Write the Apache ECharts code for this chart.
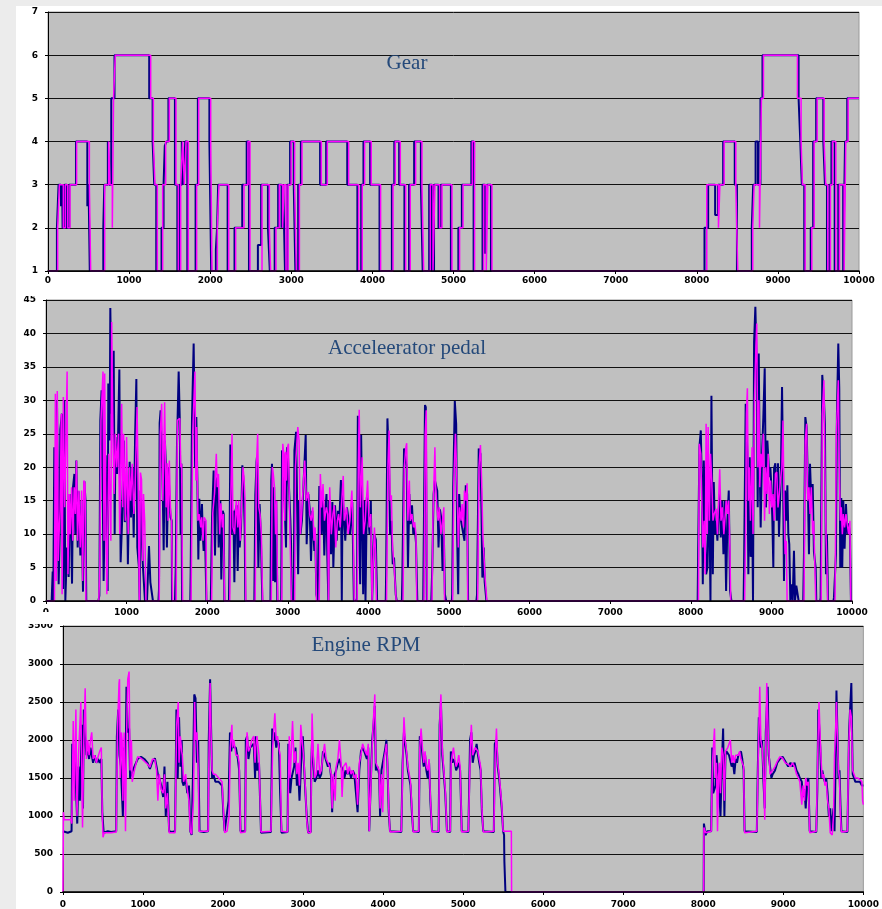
<!DOCTYPE html>
<html>
<head>
<meta charset="utf-8">
<script src="https://cdn.jsdelivr.net/npm/echarts@6/dist/echarts.min.js"></script>
<style>
  html, body { margin: 0; padding: 0; background: #fff; }
  #chart { width: 882px; height: 909px; }
</style>
</head>
<body>
<div id="chart"></div>
<script>
// panel titles
const titles = ["Gear", "Acceleerator pedal", "Engine RPM"];

// gear: [time, gear] change points (drawn as steps)
const gearNavy = [[0,1],[110,2],[130,3],[160,2.5],[175,3],[180,2],[205,3],[232,2],[262,3],[345,4],[485,2.5],[500,3],[515,1],[682,2],[694,3],[738,4],[755,3],[780,5],[820,6],[1248,5],[1290,4],[1310,3],[1335,1],[1400,2],[1425,3],[1440,3.9],[1460,4],[1485,5],[1565,3],[1595,1],[1625,3],[1650,4],[1672,3],[1692,4],[1718,1],[1820,3],[1848,5],[1990,4],[2012,1],[2070,1.5],[2085,2],[2098,3],[2215,1],[2300,2],[2395,3],[2450,4],[2478,1],[2588,1.6],[2628,3],[2712,2],[2735,1],[2795,2],[2838,3],[2880,2],[2900,3],[2922,1],[2950,3],[2985,4],[3030,3],[3050,1],[3085,3],[3118,4],[3355,3],[3430,4],[3690,3],[3815,1],[3862,3],[3890,4],[3972,3],[4088,1],[4240,3],[4270,4],[4330,3],[4395,1],[4452,3],[4515,4],[4598,3],[4620,1],[4700,3],[4735,1],[4760,3],[4815,2],[4845,3],[4968,1],[5060,2],[5103,3],[5220,4],[5248,1],[5358,3],[5390,1.4],[5412,3],[5462,1],[8095,2],[8140,3],[8226,2.3],[8262,3],[8325,4],[8468,3],[8495,1],[8678,2],[8695,3],[8725,4],[8755,3],[8785,5],[8810,6],[9255,5],[9276,4],[9295,3],[9325,1],[9405,2],[9435,4],[9472,5],[9560,4],[9580,3],[9605,1],[9635,3],[9660,4],[9700,1],[9745,3],[9805,1],[9828,4],[9855,5],[10000,5]];
const gearPink = [[0,1],[119,2],[140,3],[189,2],[214,3],[243,2],[271,3],[353,4],[510,3],[526,1],[699,3],[748,4],[764,3],[793,2],[808,5],[830,6],[1266,5],[1299,4],[1319,3],[1348,1],[1414,3],[1451,4],[1496,5],[1578,3],[1607,1],[1636,3],[1660,4],[1681,3],[1702,4],[1730,1],[1833,3],[1858,5],[2006,4],[2022,1],[2088,2],[2108,3],[2228,1],[2314,2],[2417,3],[2466,4],[2491,1],[2639,3],[2729,2],[2745,1],[2811,2],[2852,3],[2893,2],[2910,3],[2935,1],[2960,3],[2998,4],[3041,3],[3062,1],[3100,3],[3132,4],[3370,3],[3444,4],[3707,3],[3830,1],[3875,3],[3904,4],[3986,3],[4101,1],[4254,3],[4282,4],[4344,3],[4410,1],[4467,3],[4533,4],[4611,3],[4632,1],[4714,3],[4747,1],[4771,3],[4829,2],[4858,3],[4981,1],[5075,2],[5117,3],[5232,4],[5260,1],[5371,3],[5404,1],[5424,3],[5474,1],[8123,3],[8267,2],[8285,3],[8337,4],[8481,3],[8505,1],[8690,2],[8707,3],[8773,2],[8797,5],[8822,6],[9241,5],[9286,4],[9303,3],[9336,1],[9418,2],[9447,4],[9484,5],[9570,4],[9590,3],[9615,1],[9648,3],[9673,4],[9714,1],[9759,3],[9817,1],[9837,4],[9866,5],[10000,5]];

// accelerator pedal: [time, %]
const pedalNavy = [[0,0],[70,0],[83,4.4],[90,0],[103,23],[120,8.6],[136,30],[157,2.5],[170,10],[178,25.7],[198,28],[211,1.8],[227,30],[240,0],[260,8],[281,3.6],[294,16],[310,11],[323,2.6],[335,17],[352,19],[364,10],[376,21],[393,8],[405,16.4],[426,6.8],[440,15],[459,1.4],[476,17.9],[490,15],[500,0],
  [650,0],[662,0.8],[674,27],[690,31.5],[715,3],[740,21.8],[765,1.5],[773,32.5],[790,24],[798,43.8],[815,28],[825,30],[840,37.4],[852,10],[862,24.5],[882,19],[894,24.5],[910,34.6],[926,5.8],[946,12.5],[965,24],[978,11.8],[1005,17.5],[1016,5.5],[1038,20.8],[1055,12.5],[1072,20],[1088,9.5],[1105,24.3],[1121,33.2],[1133,8],[1154,4.9],[1162,0],[1175,16.5],[1200,5.7],[1228,0],[1253,0],[1278,8.2],[1295,2.8],[1315,2.8],[1327,0],
  [1395,0],[1402,1.8],[1410,26.6],[1422,28.5],[1445,19],[1460,7.6],[1475,24],[1485,21],[1500,8],[1520,20],[1530,16],[1545,12.5],[1560,12],[1563,0],
  [1600,0],[1610,5],[1625,23.3],[1646,34.3],[1660,27],[1670,10],[1680,20.5],[1688,0],
  [1790,0],[1795,4.3],[1811,27],[1832,38.5],[1850,20],[1865,27.5],[1878,17.9],[1890,6.2],[1902,15.3],[1915,9],[1935,14.5],[1945,10],[1956,7.5],[1970,12],[1990,0],
  [2045,0],[2060,12.5],[2080,19.5],[2097,6.8],[2113,18],[2130,18.5],[2142,8],[2163,15],[2175,3.2],[2192,13.5],[2205,13],[2213,0],
  [2270,0],[2275,5.3],[2287,23.4],[2300,10],[2325,13.5],[2337,2.8],[2350,13.5],[2366,14.3],[2378,4.5],[2390,12],[2403,8],[2420,11],[2436,20.3],[2450,18],[2465,11],[2473,0],
  [2585,0],[2597,15.8],[2612,20.8],[2618,21.6],[2635,5],[2650,14.5],[2665,10],[2684,0],
  [2785,0],[2795,18],[2804,20.5],[2818,3],[2830,17],[2842,2.8],[2856,15],[2870,0],[2918,0],[2928,22.5],[2945,22],[2958,15.8],[2978,8],[2990,23],[3000,22.5],[3012,17.8],[3032,12],[3040,8.8],[3050,0],
  [3075,0],[3082,22.5],[3103,25.3],[3128,4],[3140,15],[3157,10],[3175,12],[3222,24.8],[3234,8.5],[3255,16],[3271,13.8],[3288,6],[3304,13.5],[3317,13.7],[3329,7.5],[3341,10],[3354,1],[3370,0],
  [3385,0],[3391,17.2],[3420,10],[3436,16.3],[3453,6.8],[3470,14],[3480,16],[3490,7],[3503,0],[3512,15],[3536,7],[3553,14.8],[3565,5],[3586,14.3],[3606,9],[3622,13.5],[3635,10.5],[3659,18.1],[3670,0],[3680,16],[3697,16],[3713,9],[3734,14],[3755,12],[3772,10],[3800,14.8],[3820,0],
  [3850,0],[3857,0.4],[3869,27.7],[3898,2.5],[3910,24.8],[3935,1],[3948,15],[3964,0],[3981,15.5],[4014,10],[4030,15],[4046,0],[4071,10],[4092,9.2],[4108,0],
  [4215,0],[4220,4],[4236,27.3],[4257,20],[4269,10],[4285,12],[4302,5.5],[4318,6.5],[4339,1],[4351,0],
  [4415,0],[4421,3.2],[4442,22.8],[4458,23],[4475,20],[4491,5],[4508,16],[4524,11.5],[4541,14.3],[4557,10],[4574,11],[4590,8.8],[4607,0],
  [4680,0],[4702,29.3],[4712,29],[4725,0],
  [4780,0],[4792,4.8],[4809,16],[4825,18],[4842,18],[4854,16.5],[4870,8],[4887,13.7],[4903,12.5],[4920,4.5],[4936,10],[4949,1],[4965,0],
  [5035,0],[5039,1],[5052,17],[5072,29.9],[5089,26.5],[5101,10],[5114,1],[5126,16],[5142,12.5],[5163,11],[5175,11],[5192,9],[5208,17.3],[5225,16],[5237,0],
  [5340,0],[5348,1],[5369,22.8],[5390,22],[5402,14],[5414,3.5],[5431,8],[5443,2.8],[5464,0],
  [8085,0],[8091,7],[8107,23],[8124,25.5],[8136,18],[8149,2.5],[8161,21],[8178,11],[8190,4],[8207,5],[8227,18.5],[8244,0],[8256,30.7],[8273,4],[8285,17.8],[8301,10],[8314,12],[8330,9],[8343,13],[8359,16],[8372,9.5],[8388,15],[8405,7],[8421,15],[8438,1.5],[8454,12],[8471,16.5],[8487,1.5],[8504,0],
  [8655,0],[8661,5.5],[8681,29.5],[8702,22],[8714,4],[8731,21.5],[8743,6.6],[8760,15],[8772,0],[8785,38.7],[8801,44],[8818,35],[8830,14],[8843,37],[8855,20],[8867,11],[8884,22],[8900,27.5],[8917,34.8],[8933,14],[8950,24],[8962,23.8],[8974,18.5],[8987,20],[8999,17.3],[9012,12],[9024,5],[9033,19.8],[9049,20.6],[9066,12],[9082,20.6],[9094,9.6],[9107,14.8],[9119,20],[9132,32],[9144,20],[9156,3],[9169,16.5],[9185,12],[9198,17.3],[9210,10],[9222,8.5],[9235,0],[9251,2.5],[9264,0],[9280,7.5],[9293,0],[9309,2.3],[9326,2.3],[9338,0],
  [9395,0],[9404,7],[9421,27.5],[9437,26],[9450,18.7],[9466,7],[9479,20.5],[9495,15],[9512,17.5],[9528,7.3],[9549,5],[9557,0],
  [9605,0],[9611,0.5],[9631,33.8],[9652,30],[9664,26.5],[9677,4],[9689,10],[9702,0],
  [9770,0],[9776,0.5],[9801,7],[9813,28],[9830,38.5],[9842,31.8],[9854,5],[9867,15.4],[9879,5],[9892,15],[9908,7.8],[9925,14.5],[9941,10],[9958,11.6],[9974,10],[9987,0],[10000,0]];
const pedalPink = [[0,0],[105,0],[116,31],[128,3],[140,31.4],[152,6],[162,10],[175,13.5],[190,28],[200,1],[215,30.5],[232,14],[262,34.3],[272,4],[290,16],[300,10],[318,17],[332,9],[350,17],[364,13],[378,21],[392,9],[408,16.5],[425,8],[442,16.5],[455,3],[470,18],[485,17.5],[495,0],
  [655,0],[668,5],[682,27],[707,34.3],[720,9],[728,34],[745,9],[755,1],[780,22],[805,9],[815,41.7],[830,25],[845,16],[860,25],[878,20],[900,25],[915,10],[939,29.5],[952,14],[963,25],[985,12],[1000,24.5],[1020,10],[1035,20],[1050,15],[1070,20.5],[1090,13],[1105,17],[1130,29],[1145,16],[1158,0],[1172,19.2],[1185,18.2],[1200,6],[1210,16],[1225,11.8],[1240,0],
  [1405,0],[1418,25],[1435,29.5],[1450,15],[1472,29.7],[1490,14],[1505,20.6],[1515,12],[1530,21],[1545,13.5],[1558,12],[1570,0],
  [1615,0],[1630,27],[1660,27.3],[1672,20],[1683,20.5],[1695,0],
  [1800,0],[1820,25],[1848,34.3],[1860,18],[1870,26],[1885,12],[1900,13],[1920,11],[1932,12.5],[1948,9],[1962,12.5],[1985,12],[1992,0],
  [2055,0],[2068,13],[2090,16],[2113,22],[2125,17],[2140,19],[2155,10],[2170,14.6],[2188,11],[2200,13],[2215,0],
  [2280,0],[2292,15],[2308,25],[2320,11],[2340,10],[2360,15],[2380,11],[2390,15],[2410,9],[2425,14],[2444,20],[2456,18.5],[2470,15],[2478,0],
  [2595,0],[2610,20],[2626,25],[2640,14],[2655,13],[2672,10],[2688,0],
  [2795,0],[2808,20],[2820,19],[2835,17],[2848,10],[2860,15],[2875,0],[2925,0],[2938,23.5],[2950,22],[2962,12],[2972,22.3],[2985,18],[2995,23],[3008,23.5],[3020,14],[3045,0],
  [3085,0],[3095,20],[3124,26],[3140,24],[3155,10],[3170,12.5],[3190,17],[3210,21],[3230,15],[3255,16.3],[3270,13],[3290,12],[3310,14],[3325,9],[3340,11],[3355,0],
  [3390,0],[3404,19],[3420,14],[3437,17.5],[3455,12],[3478,14],[3495,13],[3505,0],[3520,17],[3540,10],[3560,13],[3577,14.3],[3595,8],[3615,12],[3630,13],[3650,11],[3688,18.7],[3700,12],[3730,14],[3748,10],[3770,12],[3795,16.5],[3812,10],[3825,0],
  [3860,0],[3875,20],[3886,28.6],[3900,14],[3923,21.5],[3940,10],[3960,12],[3990,18],[4010,11],[4030,13],[4045,0],[4060,6],[4075,11],[4090,7],[4100,0],
  [4225,0],[4242,20],[4257,25.5],[4270,15],[4285,15.8],[4300,8],[4320,5],[4345,0],
  [4430,0],[4445,20],[4465,23],[4475,23.6],[4490,12],[4508,18],[4520,12],[4540,13],[4560,11],[4574,11.8],[4590,10],[4600,0],
  [4690,0],[4705,25],[4718,28.5],[4730,0],
  [4790,0],[4800,12],[4825,23],[4835,17],[4850,14],[4865,12],[4880,14],[4900,10],[4920,12],[4936,14],[4945,0],
  [5045,0],[5060,18],[5080,25],[5101,17],[5115,8],[5130,14],[5150,12],[5163,14.5],[5180,11],[5192,16.5],[5210,15],[5225,17.6],[5232,0],
  [5355,0],[5372,20],[5390,23.3],[5405,18],[5420,10],[5431,10],[5445,4],[5470,0],
  [8095,0],[8105,23.5],[8124,22],[8136,22],[8149,8],[8165,12],[8178,4],[8190,26.5],[8205,10],[8215,26],[8230,12],[8245,22],[8260,18],[8275,12],[8290,13],[8314,13.8],[8330,10],[8343,14.5],[8359,19.7],[8375,12],[8392,14],[8410,10],[8440,15],[8455,13],[8470,15],[8485,8],[8495,0],
  [8668,0],[8680,10],[8690,28],[8702,31.8],[8714,15],[8725,20],[8740,12],[8760,23],[8772,10],[8790,30],[8808,38],[8818,41.5],[8832,20],[8845,30],[8855,17],[8870,22],[8885,20],[8900,25],[8915,12],[8930,20],[8945,16],[8960,22],[8975,13],[8990,18],[9005,14],[9020,16],[9035,12],[9050,19],[9066,19.3],[9082,14],[9098,16],[9112,18],[9130,20],[9144,27],[9156,15],[9170,7],[9185,9],[9195,0],
  [9405,0],[9420,24],[9437,26.5],[9450,15],[9466,17],[9480,13],[9495,17],[9512,10],[9525,12],[9540,5],[9550,0],
  [9618,0],[9632,28],[9652,33],[9664,20],[9677,10],[9690,5],[9698,0],
  [9790,0],[9805,25],[9818,29],[9830,33],[9842,20],[9855,12],[9867,14],[9880,10],[9892,13],[9908,11],[9925,13],[9941,12.8],[9958,10],[9974,12],[9985,0],[10000,0]];

// engine rpm: [time, rpm]
const rpmNavy = [[0,800],[60,780],[107,800],[115,1950],[128,1600],[149,1800],[178,900],[194,1650],[211,1200],[235,2200],[250,1100],[260,2400],[270,2100],[293,1800],[310,1850],[326,1750],[343,1900],[376,1700],[396,1800],[417,1700],[438,1750],[458,1700],[479,1750],[491,1050],[508,780],[560,800],[600,790],[665,800],[673,2050],[690,2400],[706,1800],[723,1650],[748,1000],[764,1900],[781,1500],[793,2700],[809,2100],[826,2150],[838,1500],[855,1550],[871,1550],[892,1650],[933,1750],[975,1780],[1016,1750],[1057,1700],[1086,1620],[1119,1720],[1148,1760],[1169,1650],[1185,1550],[1202,1500],[1227,1400],[1251,1250],[1268,1650],[1284,1000],[1305,1450],[1326,800],[1360,790],[1400,800],[1417,2400],[1433,1500],[1450,2300],[1466,1650],[1483,2000],[1491,1450],[1507,1400],[1532,1500],[1553,1300],[1574,1400],[1590,800],[1607,750],[1623,1500],[1640,2600],[1656,2550],[1673,1700],[1689,2000],[1706,800],[1760,790],[1813,800],[1821,2000],[1838,2800],[1854,2800],[1863,1500],[1879,1550],[1904,1450],[1945,1450],[1966,1450],[1987,1400],[2003,1050],[2020,800],[2044,780],[2069,1200],[2086,2100],[2102,1850],[2119,2000],[2135,1900],[2160,1900],[2185,1750],[2201,1600],[2218,800],[2276,800],[2284,2000],[2300,2050],[2317,1750],[2338,1900],[2358,1900],[2383,1950],[2400,1500],[2408,2050],[2424,1600],[2449,1700],[2474,780],[2598,790],[2614,2150],[2631,2000],[2647,2100],[2664,1900],[2680,2000],[2697,1950],[2713,1300],[2730,780],
  [2806,790],[2815,1950],[2839,1300],[2855,1500],[2888,1650],[2905,1900],[2922,1400],[2938,1600],[2955,1200],[2979,1800],[2996,2050],[3012,1650],[3029,1300],[3045,1000],[3062,780],[3095,790],[3103,1700],[3112,2000],[3128,1700],[3145,1450],[3165,1500],[3186,1600],[3207,1500],[3227,1550],[3248,1850],[3268,1800],[3289,1800],[3310,1650],[3330,1700],[3351,1500],[3363,1050],[3376,1500],[3413,1600],[3434,1700],[3454,1750],[3475,1650],[3504,1600],[3516,1500],[3537,1600],[3558,1550],[3578,1600],[3599,1500],[3620,1600],[3640,1550],[3661,1550],[3681,1050],[3702,1600],[3723,1850],[3743,1900],[3764,1850],[3797,1750],[3814,1900],[3826,800],[3847,780],[3863,2000],[3880,2200],[3896,2450],[3909,1600],[3929,1650],[3950,1550],[3962,1000],[3979,1600],[4012,1800],[4028,1900],[4041,2000],[4053,1700],[4070,1050],[4086,800],[4227,790],[4243,1700],[4260,2100],[4276,2100],[4293,1800],[4309,1600],[4326,1500],[4342,1400],[4359,1050],[4375,800],[4446,790],[4458,2050],[4474,2000],[4491,1800],[4507,1650],[4524,1800],[4540,1600],[4557,1500],[4574,1700],[4590,1200],[4611,800],[4693,790],[4706,2200],[4722,2500],[4739,1800],[4755,1600],[4776,1300],[4797,800],[4838,790],[4846,1850],[4863,1700],[4879,1750],[4896,1700],[4912,1600],[4929,1650],[4945,1700],[4962,1600],[4982,800],[5065,790],[5086,2000],[5102,2100],[5119,1700],[5135,1800],[5152,1850],[5168,1950],[5185,1800],[5201,1700],[5218,1600],[5234,1050],[5251,800],[5383,790],[5395,1950],[5416,2000],[5432,1650],[5449,1500],[5466,1300],[5482,1100],[5499,800],[5511,750],[5515,400],[5524,400],[5528,0],[8005,0],
  [8008,900],[8029,750],[8050,800],[8099,800],[8112,1900],[8124,1300],[8153,1400],[8165,1800],[8190,1500],[8215,1000],[8231,1650],[8248,2150],[8264,1000],[8277,1800],[8289,1850],[8322,1800],[8355,1650],[8372,1700],[8388,1550],[8405,1750],[8421,1700],[8438,1800],[8471,1850],[8487,1750],[8504,1600],[8516,800],[8669,790],[8681,1600],[8694,2300],[8719,1900],[8735,2000],[8752,1450],[8768,1100],[8781,2100],[8805,2700],[8818,1800],[8834,1650],[8851,1500],[8867,1550],[8896,1600],[8925,1700],[8958,1750],[8991,1780],[9024,1720],[9061,1650],[9090,1700],[9115,1650],[9140,1700],[9165,1600],[9189,1550],[9206,1500],[9231,1450],[9247,1250],[9264,1350],[9280,1100],[9297,1450],[9313,1500],[9330,800],[9412,790],[9425,1350],[9437,2400],[9462,1900],[9474,1500],[9487,1600],[9503,1500],[9520,1450],[9536,1500],[9553,1300],[9569,1000],[9586,1100],[9598,800],[9627,1100],[9640,800],[9652,1600],[9664,2650],[9689,1500],[9702,1600],[9714,1150],[9726,800],[9801,790],[9809,1300],[9821,2100],[9850,2750],[9867,1550],[9900,1450],[9929,1450],[9958,1450],[9982,1400],[10000,1400]];
const rpmPink = [[0,0],[5,1050],[15,950],[100,950],[110,900],[128,2250],[140,1200],[161,2400],[175,1000],[194,1800],[223,2500],[244,850],[260,2000],[277,2680],[293,1750],[310,2000],[326,1800],[343,2000],[359,2100],[376,1750],[396,1800],[417,1700],[438,1780],[458,1850],[479,1900],[491,1000],[500,720],[515,780],[600,780],[665,790],[680,2100],[700,2750],[706,2800],[715,1500],[730,2100],[739,2000],[748,1200],[764,2100],[781,800],[795,2100],[809,2800],[826,2900],[838,1600],[855,2000],[865,1450],[892,1600],[933,1780],[975,1760],[1016,1720],[1057,1680],[1086,1640],[1119,1750],[1148,1740],[1169,1600],[1185,1200],[1202,1550],[1227,1350],[1251,1300],[1268,1550],[1284,1100],[1305,1300],[1326,780],[1400,780],[1420,2200],[1440,2500],[1450,1700],[1466,2050],[1483,1850],[1491,1800],[1507,1450],[1532,1550],[1553,1350],[1574,1200],[1590,800],[1607,760],[1630,1200],[1645,2500],[1656,2000],[1673,2100],[1689,1600],[1700,800],[1813,800],[1821,1600],[1838,2750],[1850,2100],[1863,1600],[1879,1550],[1904,1550],[1945,1500],[1987,1450],[2003,1100],[2020,780],[2050,800],[2075,1000],[2090,1900],[2110,2200],[2119,1900],[2135,2000],[2160,1800],[2185,1800],[2201,1700],[2218,780],[2276,790],[2288,1800],[2300,2100],[2317,1850],[2338,1900],[2358,2000],[2383,2050],[2400,1700],[2408,1900],[2424,2050],[2449,1800],[2474,790],[2598,800],[2620,1900],[2631,2100],[2647,2350],[2664,2000],[2680,2050],[2697,1900],[2713,1800],[2730,800],
  [2806,790],[2827,2050],[2839,1500],[2868,2250],[2888,1700],[2905,1850],[2922,1550],[2938,1700],[2955,1400],[2971,2200],[2996,1900],[3012,1700],[3029,1350],[3045,950],[3062,780],[3095,780],[3112,2350],[3128,1800],[3145,1500],[3165,1550],[3186,1950],[3207,1550],[3227,1600],[3248,1800],[3268,1950],[3289,1750],[3310,1700],[3330,1650],[3351,1550],[3363,1100],[3376,1550],[3401,1200],[3413,1650],[3434,1750],[3454,2000],[3475,1700],[3487,1250],[3504,1650],[3537,1700],[3558,1550],[3578,1650],[3599,1550],[3620,1600],[3640,1500],[3661,1550],[3681,1150],[3702,1700],[3723,1800],[3743,1950],[3776,1850],[3797,1800],[3814,1950],[3826,800],[3847,790],[3870,2100],[3896,2600],[3909,1700],[3929,1700],[3950,1600],[3962,1100],[3979,1550],[3995,1050],[4012,1750],[4028,1850],[4041,1950],[4053,1750],[4070,1100],[4086,790],[4227,800],[4250,1900],[4260,2300],[4276,2000],[4293,1850],[4309,1650],[4326,1550],[4342,1450],[4359,1100],[4375,790],[4446,800],[4458,1900],[4474,2150],[4491,1900],[4507,1700],[4524,1850],[4540,1650],[4557,1600],[4574,1750],[4590,1250],[4611,790],[4693,800],[4710,2300],[4722,2600],[4739,1900],[4755,1650],[4776,1350],[4797,790],[4838,800],[4850,1700],[4863,1800],[4879,1900],[4896,1750],[4912,1650],[4929,1700],[4945,1800],[4962,1650],[4982,790],[5065,800],[5090,1900],[5102,2200],[5119,1800],[5135,1850],[5152,1900],[5168,1900],[5185,1850],[5201,1750],[5218,1650],[5234,1100],[5251,790],[5383,800],[5400,1800],[5416,2150],[5432,1700],[5449,1550],[5466,1350],[5482,1150],[5499,800],[5602,800],[5605,0],[8005,0],
  [8008,850],[8029,780],[8099,800],[8115,1700],[8140,2150],[8153,1500],[8165,1700],[8178,800],[8190,1500],[8202,1700],[8215,1300],[8231,1900],[8248,1800],[8264,1200],[8277,1850],[8306,1900],[8339,2000],[8355,1700],[8372,1800],[8388,1700],[8405,1800],[8438,1800],[8454,1850],[8471,1750],[8487,1700],[8504,1650],[8516,780],[8669,800],[8685,1700],[8706,2700],[8719,2000],[8735,1900],[8752,1600],[8768,950],[8781,1900],[8793,2750],[8805,2300],[8818,1900],[8834,1550],[8851,1550],[8867,1600],[8896,1650],[8925,1720],[8958,1780],[8991,1760],[9024,1700],[9061,1680],[9090,1650],[9115,1700],[9140,1650],[9165,1550],[9189,1500],[9206,1450],[9231,1150],[9247,1400],[9264,1200],[9280,1500],[9297,1400],[9313,1450],[9330,780],[9412,800],[9430,1800],[9446,2500],[9462,2000],[9474,1700],[9487,1500],[9503,1550],[9520,1400],[9536,1450],[9553,1200],[9569,1100],[9586,780],[9611,750],[9627,1000],[9640,1800],[9652,2100],[9664,2500],[9677,2000],[9689,1600],[9702,1500],[9714,1000],[9726,790],[9801,800],[9815,1800],[9834,2400],[9850,2300],[9867,1600],[9879,1600],[9900,1500],[9929,1500],[9958,1480],[9982,1450],[9991,1200],[10000,1150]];

// axis ranges per panel: [min, max, interval]
const yRanges = [[1, 7, 1], [0, 45, 5], [0, 3500, 500]];
const xRange = [0, 10000, 1000];

const NAVY = "#000080";
const PINK = "#ff00ff";
const TICK_FONT = { fontFamily: "DejaVu Sans", fontWeight: "bold", fontSize: 9, color: "#000" };
const plainNumber = (v) => String(v);

const chart = echarts.init(document.getElementById("chart"));

const grids = [
  { left: 48, top: 12, width: 811, height: 259 },
  { left: 46, top: 300, width: 806, height: 301 },
  { left: 63, top: 626, width: 807, height: 268 },
].map((g) => ({ ...g, show: true, backgroundColor: "#c0c0c0", borderColor: "#9a9a9a", borderWidth: 1 }));

const xLabelMargin = [5, 7, 8];

// x axis drawn above the series so the flat baseline stays black
const xAxes = grids.map((g, i) => ({
  type: "value",
  gridIndex: i,
  z: 10,
  min: xRange[0],
  max: xRange[1],
  interval: xRange[2],
  axisLine: { show: true, onZero: false, lineStyle: { color: "#000", width: 1.5 } },
  axisTick: { show: true, length: 3, lineStyle: { color: "#000" } },
  axisLabel: { ...TICK_FONT, margin: xLabelMargin[i], formatter: plainNumber },
  splitLine: { show: false },
}));

const yAxes = yRanges.map(([min, max, interval], i) => ({
  type: "value",
  gridIndex: i,
  min, max, interval,
  axisLine: { show: true, onZero: false, lineStyle: { color: "#000", width: 1 } },
  axisTick: { show: true, length: 3, lineStyle: { color: "#000" } },
  axisLabel: { ...TICK_FONT, margin: 10, formatter: plainNumber },
  splitLine: { show: true, lineStyle: { color: "#111", width: 1 } },
}));

const lineSeries = (data, idx, color, width, step) => ({
  type: "line",
  xAxisIndex: idx,
  yAxisIndex: idx,
  data,
  step: step ? "end" : false,
  showSymbol: false,
  symbol: "none",
  sampling: "none",
  lineStyle: { color, width },
  itemStyle: { color },
  emphasis: { disabled: true },
});

const titleText = (text, x, y) => ({
  type: "text",
  x, y,
  z: 50,
  style: {
    text,
    fill: "#24497a",
    font: "21px 'Liberation Serif'",
    textAlign: "center",
    textVerticalAlign: "middle",
  },
});

const option = {
  animation: false,
  backgroundColor: "#fff",
  grid: grids,
  xAxis: xAxes,
  yAxis: yAxes,
  series: [
    lineSeries(gearNavy, 0, NAVY, 2, true),
    lineSeries(gearPink, 0, PINK, 1.5, true),
    lineSeries(pedalNavy, 1, NAVY, 2, false),
    lineSeries(pedalPink, 1, PINK, 1.5, false),
    lineSeries(rpmNavy, 2, NAVY, 2, false),
    lineSeries(rpmPink, 2, PINK, 1.5, false),
  ],
  graphic: [
    // light page edges
    { type: "rect", z: 100, shape: { x: 0, y: 0, width: 16, height: 909 }, style: { fill: "#ececec" } },
    { type: "rect", z: 100, shape: { x: 0, y: 0, width: 882, height: 6 }, style: { fill: "#ececec" } },
    // top labels partly hidden by the panel above
    { type: "rect", z: 100, shape: { x: 16, y: 284, width: 28, height: 12 }, style: { fill: "#fff" } },
    { type: "rect", z: 100, shape: { x: 16, y: 612, width: 44, height: 12 }, style: { fill: "#fff" } },
    titleText(titles[0], 407, 63),
    titleText(titles[1], 407, 348),
    titleText(titles[2], 366, 645),
  ],
};

chart.setOption(option);
</script>
</body>
</html>
